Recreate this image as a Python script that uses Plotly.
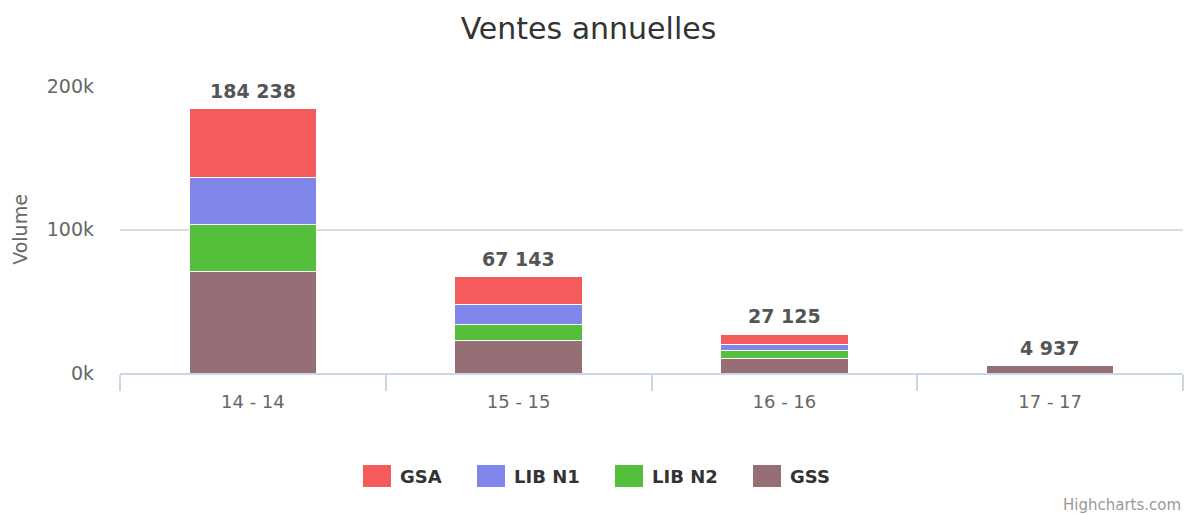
import plotly.graph_objects as go

categories = ["14 - 14", "15 - 15", "16 - 16", "17 - 17"]
gsa = [47738, 19743, 7125, 0]
lib_n1 = [33000, 13300, 4500, 0]
lib_n2 = [33000, 11100, 5300, 0]
gss = [70500, 23000, 10200, 4937]
y_tickvals = [0, 100000, 200000]
y_ticktext = ["0k", "100k", "200k"]

series = [
    ("GSS", gss, "#966f76"),
    ("LIB N2", lib_n2, "#55bf3b"),
    ("LIB N1", lib_n1, "#8085e9"),
    ("GSA", gsa, "#f45b5b"),
]

font = "DejaVu Sans"
W, H = 1188, 507
L, R, T, B = 112, 13, 78, 142
PW, PH = W - L - R, H - T - B


def px_x(x):  # canvas pixel -> paper x
    return (x - L) / PW


def px_y(y):  # canvas pixel -> paper y
    return (H - B - y) / PH


fig = go.Figure()
for name, vals, color in series:
    fig.add_trace(go.Bar(
        x=categories, y=vals, name=name, showlegend=False,
        marker=dict(color=color, line=dict(color="#ffffff", width=1)),
        hoverinfo="x+y+name",
    ))

totals = [a + b + c + d for a, b, c, d in zip(gsa, lib_n1, lib_n2, gss)]
for cat, tot in zip(categories, totals):
    fig.add_annotation(
        x=cat, y=tot, text=f"<b>{tot:,}</b>".replace(",", " "),
        showarrow=False, yanchor="middle", yshift=18,
        font=dict(family=font, size=19, color="#555555"),
    )

# legend (GSA, LIB N1, LIB N2, GSS)
legend_items = [("GSA", "#f45b5b", 355), ("LIB N1", "#8085e9", 469),
                ("LIB N2", "#55bf3b", 607), ("GSS", "#966f76", 745)]
ly = 468
for name, color, x0 in legend_items:
    fig.add_shape(type="rect", xref="paper", yref="paper",
                  x0=px_x(x0), x1=px_x(x0 + 28), y0=px_y(ly - 11), y1=px_y(ly + 11),
                  fillcolor=color, line=dict(width=0))
    fig.add_annotation(x=px_x(x0 + 35), y=px_y(ly), xref="paper", yref="paper",
                       xanchor="left", yanchor="middle", showarrow=False,
                       text=f"<b>{name}</b>",
                       font=dict(family=font, size=18, color="#333333"))

fig.add_annotation(
    x=1, y=px_y(497), xref="paper", yref="paper", xanchor="right", yanchor="middle",
    text="Highcharts.com", showarrow=False,
    font=dict(family=font, size=15, color="#999999"),
)

fig.update_layout(
    width=W, height=H,
    barmode="stack", bargap=0.52,
    plot_bgcolor="#ffffff", paper_bgcolor="#ffffff",
    margin=dict(l=L, r=R, t=T, b=B, autoexpand=False),
    title=dict(text="Ventes annuelles", x=580.5 / W, xref="container", xanchor="center",
               y=1 - 20 / H, yanchor="middle",
               font=dict(family=font, size=30, color="#333333")),
    showlegend=False,
    font=dict(family=font),
)
fig.update_xaxes(
    type="category", showline=True, linecolor="#ccd6eb", linewidth=2,
    ticks="outside", tickson="boundaries", ticklen=16, tickcolor="#ccd6eb", tickwidth=2,
    ticklabelstandoff=11,
    showgrid=False, tickfont=dict(family=font, size=18, color="#666666"),
)
fig.update_yaxes(
    range=[0, 200000], tickvals=y_tickvals, ticktext=y_ticktext,
    showgrid=True, gridcolor="#dcdcdc", gridwidth=2, zeroline=False,
    ticks="", ticklabelstandoff=25,
    tickfont=dict(family=font, size=19, color="#666666"),
    title=dict(text="Volume", font=dict(family=font, size=19, color="#666666"), standoff=14),
)
fig.write_html("out.html")
